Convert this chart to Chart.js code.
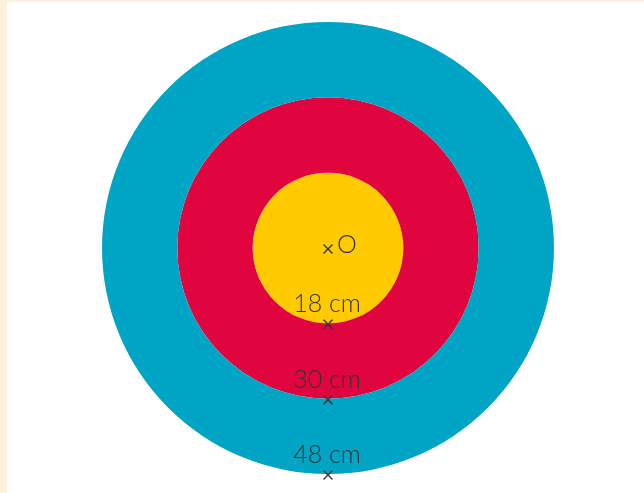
<!DOCTYPE html>
<html lang="en">
<head>
    <meta charset="UTF-8">
    <title>Target</title>
    <script src="https://cdn.jsdelivr.net/npm/chart.js@4.4.0/dist/chart.umd.min.js"></script>
    <style>
        html, body {
            margin: 0;
            padding: 0;
            background: #fdf0dc;
            width: 644px;
            height: 493px;
            overflow: hidden;
        }
        .wrap {
            position: absolute;
            left: 7px;
            top: 2px;
            width: 637px;
            height: 491px;
            background: #ffffff;
        }
    </style>
</head>
<body>
    <div class="wrap">
        <canvas id="target"></canvas>
    </div>

    <script>
        // rings, outermost first (dataset 0 is the outer ring in a pie)
        const rings = ['outer', 'middle', 'inner'];
        const ringValues = [1, 1, 1];
        const ringColors = ['#00a4c5', '#e0053f', '#ffca00'];
        const ringLabels = ['48 cm', '30 cm', '18 cm'];
        const centreLabel = 'O';

        const INK = '#333333';
        const FONT = '300 25px Lato, "Open Sans", sans-serif';

        function drawCross(ctx, x, y, s) {
            ctx.beginPath();
            ctx.moveTo(x - s, y - s);
            ctx.lineTo(x + s, y + s);
            ctx.moveTo(x + s, y - s);
            ctx.lineTo(x - s, y + s);
            ctx.stroke();
        }

        const markers = {
            id: 'markers',
            afterDraw(chart) {
                const ctx = chart.ctx;
                ctx.save();
                ctx.strokeStyle = INK;
                ctx.fillStyle = INK;
                ctx.lineWidth = 1.4;
                ctx.textAlign = 'center';
                ctx.textBaseline = 'alphabetic';
                ctx.font = FONT;
                let cx = 0, cy = 0;
                rings.forEach((r, i) => {
                    const arc = chart.getDatasetMeta(i).data[0];
                    cx = arc.x;
                    cy = arc.y;
                    const y = cy + arc.outerRadius;
                    drawCross(ctx, cx, y + 1, 4.5);
                    ctx.fillText(ringLabels[i], cx - 1, y - 11);
                });
                // centre mark
                drawCross(ctx, cx, cy + 1, 4.5);
                ctx.font = '300 25px Lato, "Open Sans", sans-serif';
                ctx.textBaseline = 'middle';
                ctx.fillText(centreLabel, cx + 19, cy - 3);
                ctx.restore();
            }
        };

        new Chart(document.getElementById('target'), {
            type: 'pie',
            data: {
                labels: ['target'],
                datasets: rings.map((r, i) => ({
                    label: r,
                    data: [ringValues[i]],
                    backgroundColor: ringColors[i],
                    borderWidth: 0,
                    hoverOffset: 0,
                    offset: 0
                }))
            },
            options: {
                responsive: true,
                maintainAspectRatio: false,
                animation: false,
                events: [],
                layout: {
                    padding: { left: 95, right: 90, top: 20, bottom: 19 }
                },
                plugins: {
                    legend: { display: false },
                    tooltip: { enabled: false }
                }
            },
            plugins: [markers]
        });
    </script>
</body>
</html>
